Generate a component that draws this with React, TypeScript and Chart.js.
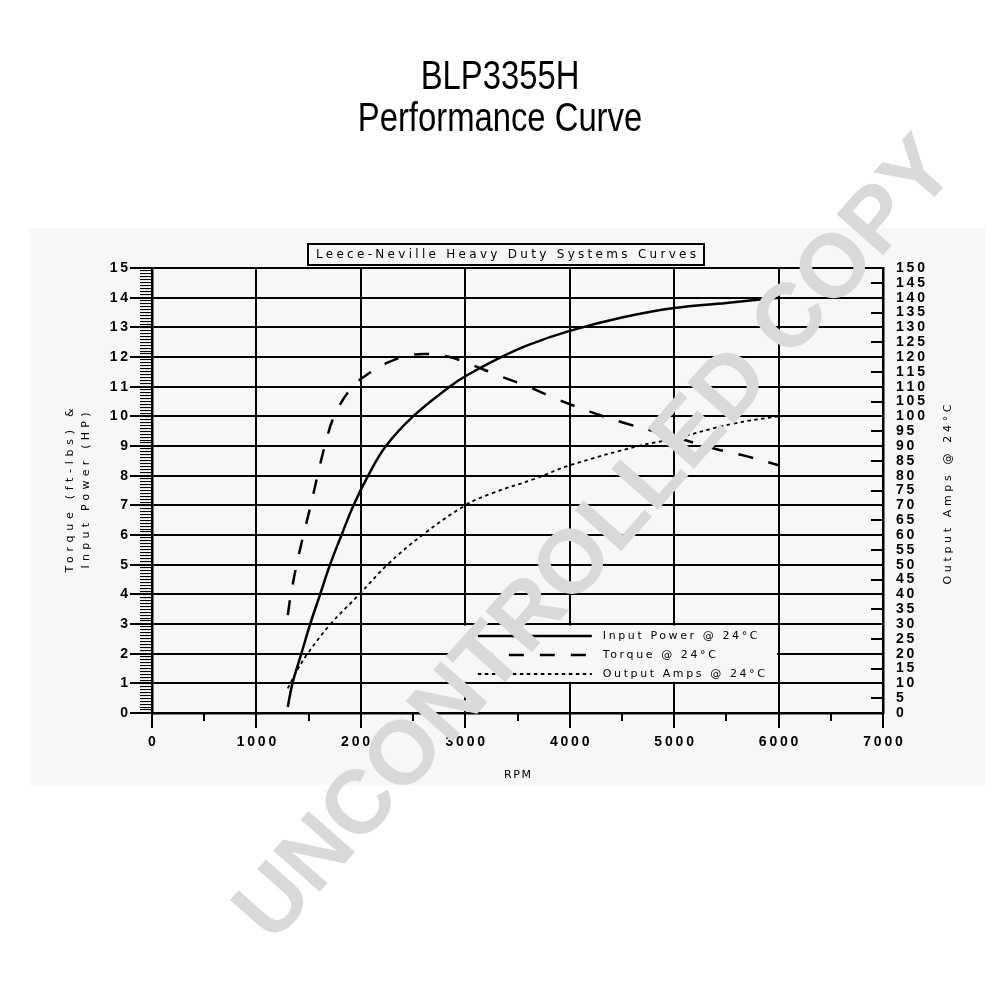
import React, { useEffect, useRef } from 'react';
import { Chart, registerables } from 'chart.js';

Chart.register(...registerables);

// ---------- data ----------
const powerRpm = [1300, 1345, 1430, 1515, 1610, 1705, 1815, 1930, 2070, 2240, 2500, 2850, 3000, 3300, 3600, 4000, 4500, 5000, 5500, 6000];
const powerHp = [0.2, 1, 2, 3, 4, 5, 6, 7, 8, 9, 10, 11, 11.35, 11.92, 12.4, 12.88, 13.33, 13.65, 13.82, 14.0];

const torqueRpm = [1300, 1330, 1385, 1450, 1520, 1585, 1655, 1745, 1920, 2100, 2250, 2450, 2650, 2850, 3050, 3300, 3600, 3900, 4200, 4500, 4800, 5100, 5400, 5700, 6000];
const torqueFtLbs = [3.3, 4, 5, 6, 7, 8, 9, 10, 11, 11.5, 11.8, 12.05, 12.1, 12.0, 11.75, 11.4, 11.0, 10.55, 10.15, 9.8, 9.5, 9.2, 8.9, 8.65, 8.35];

const ampsRpm = [1300, 1400, 1490, 1710, 1985, 2255, 2590, 3000, 3250, 3670, 4000, 4660, 5000, 5560, 6000];
const ampsOut = [8.3, 15, 20, 30, 40, 50, 60, 70, 74, 79, 83.5, 90, 92.5, 97.5, 100];

const seriesLabels = ['Input Power @ 24°C', 'Torque @ 24°C', 'Output Amps @ 24°C'];
const titleLines = ['BLP3355H', 'Performance Curve'];
const boxTitle = 'Leece-Neville Heavy Duty Systems Curves';
const leftTitleLines = ['Torque (ft-lbs) &', 'Input Power (HP)'];
const rightTitle = 'Output Amps @ 24°C';
const xTitle = 'RPM';
const watermark = 'UNCONTROLLED COPY';

// axis ranges / tick steps
const rpmMin = 0;
const rpmMax = 7000;
const rpmStep = 1000;
const rpmMinorStep = 500;
const leftMin = 0;
const leftMax = 15;
const leftStep = 1;
const leftMinorStep = 0.1;
const rightMin = 0;
const rightMax = 150;
const rightStep = 5;

// legend box extent in data units
const legendRpm = [2900, 6000];
const legendVal = [3, 1];

// ---------- helpers ----------
const pts = (xs: number[], ys: number[]) => xs.map((x, i) => ({ x, y: ys[i] }));
const spaced = (s: string) => Array.from(s).join('\u2009');

const BAND = '#f7f7f7';
const INK = '#000000';
const LETTER_FONT = "'DejaVu Sans', sans-serif";
const TICK_FONT = "'Liberation Sans', Arial, sans-serif";

function drawText(
  ctx: CanvasRenderingContext2D,
  text: string,
  x: number,
  y: number,
  font: string,
  opts: { spacing?: number; fitWidth?: number; align?: 'left' | 'center'; rot?: number; sx?: number } = {}
) {
  ctx.save();
  ctx.translate(x, y);
  if (opts.rot) ctx.rotate(opts.rot);
  if (opts.sx) ctx.scale(opts.sx, 1);
  ctx.font = font;
  ctx.fillStyle = INK;
  ctx.textBaseline = 'middle';
  ctx.textAlign = 'left';
  let spacing = opts.spacing ?? 0;
  const n = Array.from(text).length;
  if (opts.fitWidth) {
    const w0 = ctx.measureText(text).width;
    spacing = Math.max(0, (opts.fitWidth - w0) / Math.max(1, n - 1));
  }
  (ctx as any).letterSpacing = spacing + 'px';
  const w = ctx.measureText(text).width - spacing;
  const sx = opts.align === 'center' ? -w / 2 : 0;
  ctx.fillText(text, sx, 0);
  ctx.restore();
}

const decorPlugin = {
  id: 'decor',
  beforeDraw(chart: any) {
    const { ctx, width, height } = chart;
    ctx.save();
    ctx.fillStyle = '#ffffff';
    ctx.fillRect(0, 0, width, height);
    ctx.fillStyle = BAND;
    ctx.fillRect(30, 228, 955, 557);
    // main title (narrow sans)
    drawText(ctx, titleLines[0], 500, 78, "40px 'Liberation Sans', Arial, sans-serif", { align: 'center', sx: 0.82 });
    drawText(ctx, titleLines[1], 500, 120, "40px 'Liberation Sans', Arial, sans-serif", { align: 'center', sx: 0.82 });
    ctx.restore();
  },
  beforeDatasetsDraw(chart: any) {
    const { ctx, chartArea } = chart;
    const x = chart.scales.x;
    const y = chart.scales.y;
    const l = x.getPixelForValue(legendRpm[0]);
    const r = x.getPixelForValue(legendRpm[1]) - 1.5;
    const t = y.getPixelForValue(legendVal[0]) + 1.5;
    const b = y.getPixelForValue(legendVal[1]) - 1.5;
    ctx.save();
    ctx.fillStyle = BAND;
    ctx.fillRect(l, t, r - l, b - t);
    chart.data.datasets.forEach((ds: any, i: number) => {
      const yy = t + 10.5 + i * 19;
      ctx.beginPath();
      ctx.setLineDash(ds.borderDash || []);
      ctx.lineWidth = ds.borderWidth;
      ctx.strokeStyle = ds.borderColor;
      ctx.moveTo(l + 23, yy);
      ctx.lineTo(l + 137, yy);
      ctx.stroke();
      ctx.setLineDash([]);
      drawText(ctx, ds.label, l + 148, yy, `11px ${LETTER_FONT}`, { spacing: 2.6 });
    });

    // boxed heading above the grid
    ctx.lineWidth = 2;
    ctx.strokeStyle = INK;
    ctx.strokeRect(308, 244, 396, 21);
    drawText(ctx, boxTitle, 506, 255, `12px ${LETTER_FONT}`, { fitWidth: 380, align: 'center' });

    // axis titles
    const cy = (chartArea.top + chartArea.bottom) / 2;
    drawText(ctx, leftTitleLines[0], 70, cy, `11px ${LETTER_FONT}`, { fitWidth: 164, align: 'center', rot: -Math.PI / 2 });
    drawText(ctx, leftTitleLines[1], 86, cy, `11px ${LETTER_FONT}`, { fitWidth: 156, align: 'center', rot: -Math.PI / 2 });
    drawText(ctx, rightTitle, 948, cy + 4, `11px ${LETTER_FONT}`, { fitWidth: 180, align: 'center', rot: -Math.PI / 2 });
    drawText(ctx, xTitle, (chartArea.left + chartArea.right) / 2, 775, `11px ${LETTER_FONT}`, { spacing: 1.5, align: 'center' });
    ctx.restore();
  },
  afterDraw(chart: any) {
    const { ctx } = chart;
    ctx.save();
    ctx.translate(597, 541);
    ctx.rotate((-48.5 * Math.PI) / 180);
    ctx.font = "bold 90px 'Liberation Sans', Arial, sans-serif";
    ctx.fillStyle = '#d9d9d9';
    ctx.textAlign = 'center';
    ctx.textBaseline = 'middle';
    ctx.fillText(watermark, 0, 0);
    ctx.restore();
  },
};

const tickFont = { family: TICK_FONT, size: 14, weight: 'bold' as const };

export default function App() {
  const ref = useRef<HTMLCanvasElement>(null);

  useEffect(() => {
    if (!ref.current) return;
    const chart = new Chart(ref.current, {
      type: 'line',
      data: {
        datasets: [
          {
            label: seriesLabels[0],
            data: pts(powerRpm, powerHp),
            borderColor: INK,
            borderWidth: 2.5,
            borderDash: [],
            pointRadius: 0,
            tension: 0.4,
            yAxisID: 'y',
            xAxisID: 'x',
          },
          {
            label: seriesLabels[1],
            data: pts(torqueRpm, torqueFtLbs),
            borderColor: INK,
            borderWidth: 2.5,
            borderDash: [15, 16],
            pointRadius: 0,
            tension: 0.4,
            yAxisID: 'y',
            xAxisID: 'x',
          },
          {
            label: seriesLabels[2],
            data: pts(ampsRpm, ampsOut),
            borderColor: INK,
            borderWidth: 1.8,
            borderDash: [3.5, 3.5],
            pointRadius: 0,
            tension: 0.4,
            yAxisID: 'y2',
            xAxisID: 'x',
          },
        ] as any,
      },
      options: {
        responsive: false,
        animation: false,
        events: [],
        layout: { padding: { top: 268, left: 0, right: 0, bottom: 0 } },
        plugins: {
          legend: { display: false },
          tooltip: { enabled: false },
          title: { display: false },
        },
        scales: {
          x: {
            type: 'linear',
            position: 'bottom',
            min: rpmMin,
            max: rpmMax,
            ticks: {
              stepSize: rpmStep,
              autoSkip: false,
              maxRotation: 0,
              padding: 6,
              color: INK,
              font: tickFont,
              callback: (v: any) => spaced(String(v)),
            },
            grid: { color: INK, lineWidth: 2, tickLength: 15, tickColor: INK },
            border: { display: true, color: INK, width: 2.5 },
            afterFit: (s: any) => {
              s.height = 287;
            },
          },
          xMinor: {
            type: 'linear',
            axis: 'x',
            position: { y: 0 },
            min: rpmMin,
            max: rpmMax,
            ticks: { stepSize: rpmMinorStep, display: false },
            grid: { drawOnChartArea: false, tickLength: 8, color: INK, lineWidth: 2 },
            border: { display: false },
          },
          y: {
            type: 'linear',
            position: 'left',
            min: leftMin,
            max: leftMax,
            ticks: {
              stepSize: leftStep,
              autoSkip: false,
              padding: 2,
              color: INK,
              font: tickFont,
              callback: (v: any) => spaced(String(v)),
            },
            grid: { color: INK, lineWidth: 2, tickLength: 22, tickColor: INK },
            border: { display: true, color: INK, width: 2.5 },
            afterFit: (s: any) => {
              s.width = 152;
            },
          },
          yMinor: {
            type: 'linear',
            axis: 'y',
            position: { x: 0 },
            min: leftMin,
            max: leftMax,
            ticks: { stepSize: leftMinorStep, display: false },
            grid: { drawOnChartArea: false, tickLength: 12, color: INK, lineWidth: 1.1 },
            border: { display: false },
          },
          y2: {
            type: 'linear',
            position: 'right',
            min: rightMin,
            max: rightMax,
            ticks: {
              stepSize: rightStep,
              autoSkip: false,
              padding: 13,
              color: INK,
              font: tickFont,
              callback: (v: any) => spaced(String(v)),
            },
            grid: { drawOnChartArea: false, drawTicks: false },
            border: { display: true, color: INK, width: 2.5 },
            afterFit: (s: any) => {
              s.width = 117;
            },
          },
          y2Minor: {
            type: 'linear',
            axis: 'y',
            position: { x: rpmMax },
            min: rightMin,
            max: rightMax,
            ticks: { stepSize: rightStep, display: false },
            grid: { drawOnChartArea: false, tickLength: 12, color: INK, lineWidth: 2 },
            border: { display: false },
          },
        } as any,
      },
      plugins: [decorPlugin as any],
    });
    return () => chart.destroy();
  }, []);

  return (
    <div style={{ position: 'absolute', left: 0, top: 0, width: 1000, height: 1000 }}>
      <canvas ref={ref} width={1000} height={1000} style={{ display: 'block', width: 1000, height: 1000 }} />
    </div>
  );
}
